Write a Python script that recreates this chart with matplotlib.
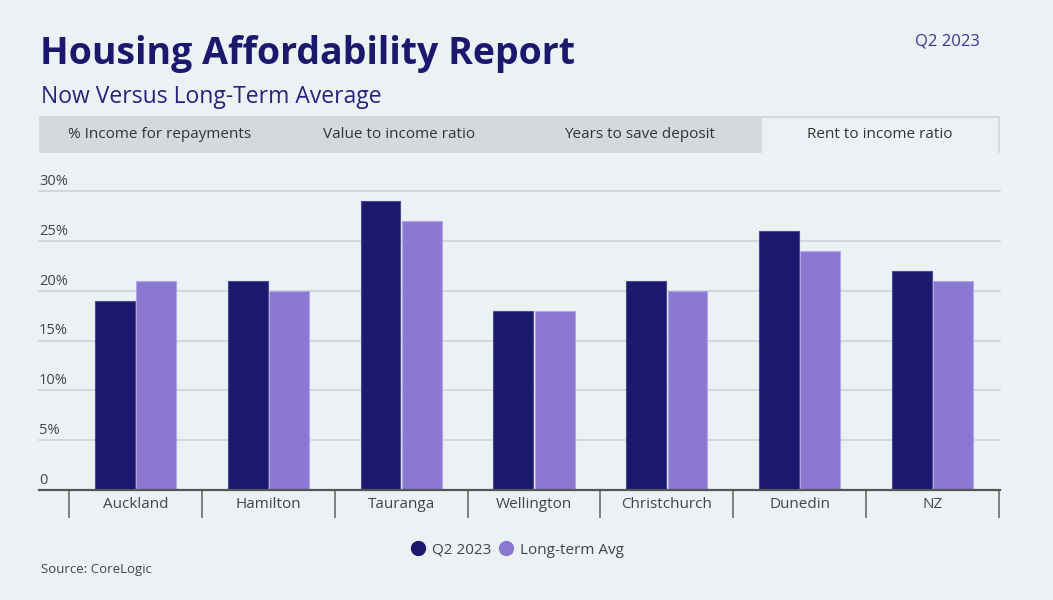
import matplotlib
matplotlib.use("Agg")
import matplotlib.pyplot as plt
from matplotlib.patches import Rectangle
from matplotlib.lines import Line2D
import matplotlib.transforms as mtransforms
import numpy as np

# ---- data ----
categories = ["Auckland", "Hamilton", "Tauranga", "Wellington", "Christchurch", "Dunedin", "NZ"]
q2_2023 = [19, 21, 29, 18, 21, 26, 22]
long_term_avg = [21, 20, 27, 18, 20, 24, 21]
y_ticks = [0, 5, 10, 15, 20, 25, 30]
y_tick_labels = ["0", "5%", "10%", "15%", "20%", "25%", "30%"]
tabs = ["% Income for repayments", "Value to income ratio", "Years to save deposit", "Rent to income ratio"]
selected_tab = 3
series_names = ["Q2 2023", "Long-term Avg"]

# ---- style ----
BG = "#ECF1F4"
NAVY = "#1B196D"
PURPLE = "#8B78D1"
TXT = "#444444"
FONT = "Open Sans"
plt.rcParams["font.family"] = [FONT, "DejaVu Sans"]

W, H = 1053, 600
fig = plt.figure(figsize=(W / 100, H / 100), dpi=100, facecolor=BG)

def fx(px):
    return px / W

def fy(py):
    return 1 - py / H

# title texts
fig.text(fx(40), fy(54), "Housing Affordability Report", fontsize=27, fontweight="bold",
         color=NAVY, ha="left", va="center")
fig.text(fx(41), fy(97), "Now Versus Long-Term Average", fontsize=16.5, color="#25237A",
         ha="left", va="center")
fig.text(fx(980), fy(41), "Q2 2023", fontsize=12, color="#3A3890", ha="right", va="center")

# tab bar
tab_left, tab_right, tab_top, tab_bot = 39, 1000, 116, 153
fig.patches.append(Rectangle((fx(tab_left), fy(tab_bot)), fx(tab_right - tab_left),
                             (tab_bot - tab_top) / H, transform=fig.transFigure,
                             facecolor="#D5D9DC", edgecolor="none", zorder=0))
tab_w = (tab_right - tab_left) / len(tabs)
for i, t in enumerate(tabs):
    x0 = tab_left + i * tab_w
    if i == selected_tab:
        fig.patches.append(Rectangle((fx(x0 + 2), fy(tab_bot)), fx(tab_w - 4),
                                     (tab_bot - tab_top - 2) / H, transform=fig.transFigure,
                                     facecolor=BG, edgecolor="none", zorder=1))
    fig.text(fx(x0 + tab_w / 2), fy(134), t, fontsize=11, color="#333333",
             ha="center", va="center", zorder=2)

# axes
ax_left, ax_right, ax_top, ax_bot = 39, 1000, 191, 490
ax = fig.add_axes([fx(ax_left), fy(ax_bot), fx(ax_right - ax_left), (ax_bot - ax_top) / H])
ax.set_facecolor("none")
n = len(categories)
px_per_unit = (999 - 69) / n
ax.set_xlim(-0.5 - (69 - ax_left) / px_per_unit, n - 0.5 + (ax_right - 999) / px_per_unit)
ax.set_ylim(0, 30)

x = np.arange(n)
bw = 0.30
ax.bar(x - bw / 2 - 0.005, q2_2023, width=bw, color=NAVY, edgecolor="#4B4A90", linewidth=0.8, zorder=3)
ax.bar(x + bw / 2 + 0.005, long_term_avg, width=bw, color=PURPLE, edgecolor="#B3A6EA", linewidth=0.8, zorder=3)

# grid
for v in y_ticks[1:]:
    ax.axhline(v, color="#D0D4D8", linewidth=1.2, zorder=1, clip_on=False)

ax.set_yticks([])
trans = mtransforms.blended_transform_factory(ax.transAxes, ax.transData)
for v, lab in zip(y_ticks, y_tick_labels):
    ax.annotate(lab, xy=(0, v), xycoords=trans, xytext=(0, 1.5), textcoords="offset points",
                ha="left", va="bottom", fontsize=10.5, color=TXT)

for s in ["top", "right", "left"]:
    ax.spines[s].set_visible(False)
ax.spines["bottom"].set_color("#555555")
ax.spines["bottom"].set_linewidth(1.6)
ax.spines["bottom"].set_zorder(4)

ax.set_xticks(x)
ax.set_xticklabels(categories, fontsize=11, color=TXT)
ax.tick_params(axis="x", which="major", length=0, pad=5)
ax.set_xticks(np.arange(n + 1) - 0.5, minor=True)
ax.tick_params(axis="x", which="minor", length=20, width=1.2, color="#6B6B6B", direction="out")

# legend
handles = [Line2D([0], [0], marker="o", linestyle="none", markersize=10, markerfacecolor=NAVY,
                  markeredgecolor=NAVY),
           Line2D([0], [0], marker="o", linestyle="none", markersize=10, markerfacecolor=PURPLE,
                  markeredgecolor=PURPLE)]
fig.legend(handles, series_names, loc="center", bbox_to_anchor=(fx(517), fy(550)), ncol=2,
           frameon=False, fontsize=11, labelcolor=TXT, handletextpad=0.4, columnspacing=0.5,
           handlelength=1.0)

fig.text(fx(41), fy(570), "Source: CoreLogic", fontsize=9.5, color=TXT, ha="left", va="center")

fig.savefig("out.png", dpi=100, facecolor=BG)
